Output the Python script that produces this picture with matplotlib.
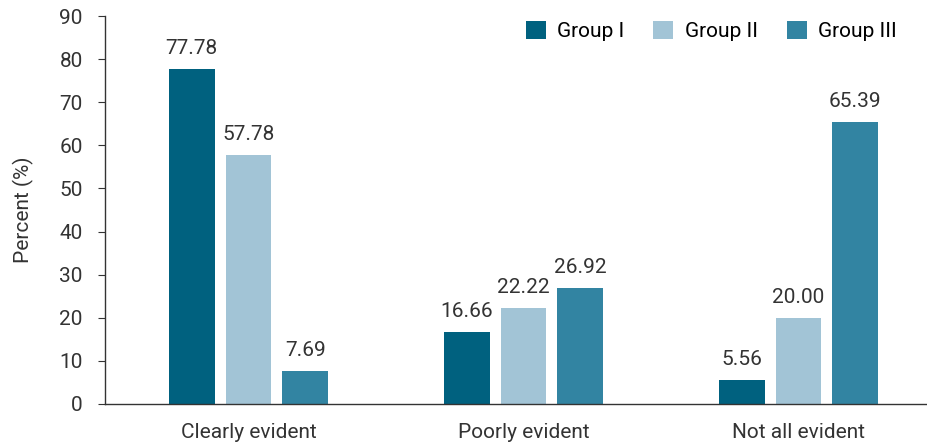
import numpy as np
import matplotlib.pyplot as plt

categories = ['Clearly evident', 'Poorly evident', 'Not all evident']
groups = ['Group I', 'Group II', 'Group III']
group1 = [77.78, 16.66, 5.56]
group2 = [57.78, 22.22, 20.00]
group3 = [7.69, 26.92, 65.39]
colors = ['#00617f', '#a2c4d6', '#3284a2']

plt.rcParams['font.family'] = ['Roboto', 'DejaVu Sans']
text_color = '#333333'
fs = 15

fig = plt.figure(figsize=(9.28, 4.42), dpi=100)
ax = fig.add_axes([0.1131, 0.086, 0.8869, 0.8778])

x = np.arange(len(categories))
width = 0.167
step = 0.207
for i, (vals, name) in enumerate(zip([group1, group2, group3], groups)):
    bars = ax.bar(x + (i - 1) * step, vals, width, color=colors[i], label=name)
    for b, v in zip(bars, vals):
        ax.annotate(f'{v:.2f}', (b.get_x() + b.get_width() / 2, v),
                    xytext=(0, 8), textcoords='offset points',
                    ha='center', va='bottom', fontsize=fs, color=text_color)

ax.set_xlim(-0.522, 2.471)
ax.set_ylim(0, 90)
ax.set_yticks(range(0, 91, 10))
ax.set_xticks(x)
ax.set_xticklabels(categories)
ax.tick_params(axis='x', length=0, pad=14, labelsize=fs, colors=text_color)
ax.tick_params(axis='y', length=5, direction='out', pad=11, labelsize=fs,
               colors=text_color, color='#333333')
for s in ['top', 'right']:
    ax.spines[s].set_visible(False)
for s in ['left', 'bottom']:
    ax.spines[s].set_color('#333333')
    ax.spines[s].set_linewidth(1)
ax.set_ylabel('Percent (%)', fontsize=fs, color=text_color, labelpad=18)

ax.legend(loc='upper right', ncol=3, frameon=False, fontsize=fs,
          handlelength=0.95, handleheight=0.95, handletextpad=0.55,
          columnspacing=1.4, bbox_to_anchor=(0.985, 1.035))

plt.savefig('out.png', dpi=100)
